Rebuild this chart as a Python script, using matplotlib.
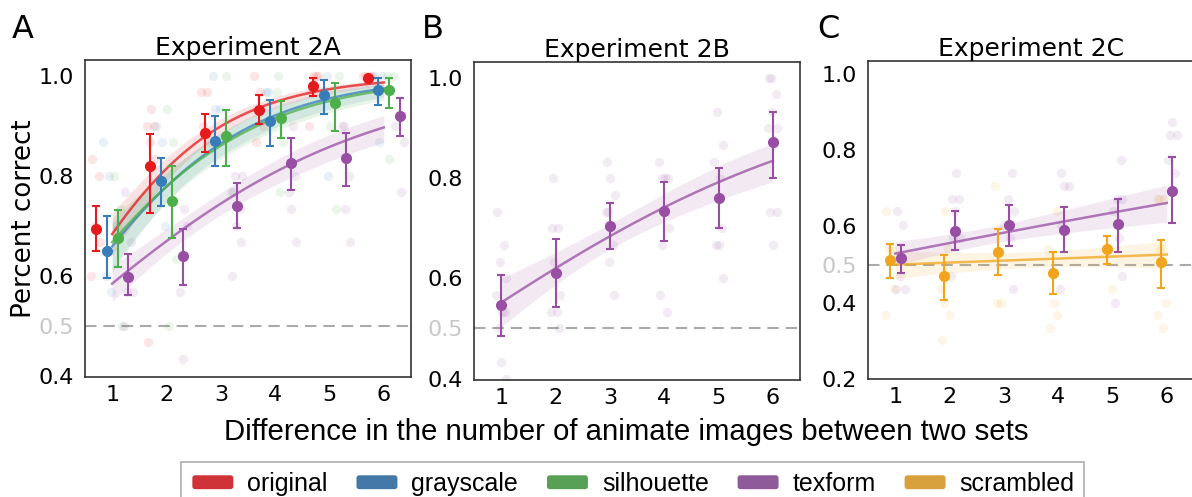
import numpy as np
import matplotlib
matplotlib.use("Agg")
import matplotlib.pyplot as plt
from matplotlib.patches import FancyBboxPatch, Patch
from matplotlib.legend_handler import HandlerPatch

# ---- data -------------------------------------------------------------
diffs = np.array([1, 2, 3, 4, 5, 6])

# Experiment 2A: condition means and 95% CI bounds
a_original = [0.693, 0.819, 0.885, 0.932, 0.980, 0.995]
a_original_lo = [0.649, 0.726, 0.848, 0.903, 0.959, 0.989]
a_original_hi = [0.739, 0.883, 0.923, 0.962, 0.995, 1.000]
a_gray = [0.649, 0.789, 0.870, 0.909, 0.962, 0.972]
a_gray_lo = [0.596, 0.739, 0.820, 0.860, 0.923, 0.942]
a_gray_hi = [0.719, 0.836, 0.919, 0.952, 0.992, 0.995]
a_silh = [0.675, 0.749, 0.879, 0.916, 0.946, 0.972]
a_silh_lo = [0.618, 0.675, 0.820, 0.876, 0.889, 0.936]
a_silh_hi = [0.732, 0.820, 0.932, 0.949, 0.985, 0.995]
a_tex = [0.598, 0.639, 0.739, 0.825, 0.836, 0.919]
a_tex_lo = [0.562, 0.581, 0.695, 0.772, 0.779, 0.879]
a_tex_hi = [0.644, 0.693, 0.785, 0.876, 0.886, 0.956]

# Experiment 2B (texform only)
b_tex = [0.546, 0.611, 0.705, 0.735, 0.760, 0.872]
b_tex_lo = [0.485, 0.543, 0.659, 0.674, 0.701, 0.801]
b_tex_hi = [0.607, 0.679, 0.750, 0.793, 0.820, 0.932]

# Experiment 2C (texform vs scrambled)
c_tex = [0.517, 0.587, 0.603, 0.590, 0.607, 0.693]
c_tex_lo = [0.479, 0.537, 0.549, 0.534, 0.534, 0.610]
c_tex_hi = [0.552, 0.641, 0.657, 0.651, 0.672, 0.782]
c_scr = [0.513, 0.469, 0.533, 0.479, 0.541, 0.507]
c_scr_lo = [0.466, 0.408, 0.472, 0.422, 0.502, 0.438]
c_scr_hi = [0.554, 0.524, 0.594, 0.534, 0.576, 0.565]

# individual participants (difference, proportion correct)
a_original_pts_x = [1, 1, 1, 1, 1, 2, 2, 2, 2, 2, 2, 3, 3, 3, 3, 4, 4, 4, 4, 5, 5, 5, 5, 5, 6, 6, 6, 6]
a_original_pts_y = [0.833, 0.8, 0.7, 0.667, 0.6, 0.933, 0.9, 0.9, 0.867, 0.833, 0.467,
                    0.967, 0.967, 0.9, 0.867, 1.0, 0.967, 0.9, 0.867, 1.0, 1.0, 0.967, 0.9, 1.0,
                    1.0, 1.0, 1.0, 1.0]
a_gray_pts_x = [1, 1, 1, 1, 2, 2, 2, 3, 3, 3, 4, 4, 5, 5, 5, 6, 6, 6]
a_gray_pts_y = [0.867, 0.8, 0.6, 0.567, 0.9, 0.867, 0.7, 1.0, 0.933, 0.933, 0.967, 0.967,
                1.0, 0.967, 0.8, 1.0, 0.867, 1.0]
a_silh_pts_x = [1, 1, 1, 1, 2, 2, 2, 2, 3, 3, 4, 4, 4, 4, 5, 5, 5, 6, 6, 6]
a_silh_pts_y = [0.8, 0.733, 0.7, 0.5, 0.933, 0.867, 0.633, 0.5, 1.0, 0.767, 1.0, 0.967, 0.867,
                0.767, 1.0, 0.9, 0.733, 1.0, 1.0, 0.833]
a_tex_pts_x = [1, 1, 1, 1, 1, 2, 2, 2, 2, 3, 3, 3, 3, 3, 3, 3, 4, 4, 4, 4, 4, 5, 5, 5, 5, 5, 6, 6, 6]
a_tex_pts_y = [0.767, 0.667, 0.567, 0.567, 0.5, 0.733, 0.7, 0.567, 0.433,
               0.8, 0.8, 0.767, 0.733, 0.7, 0.667, 0.6, 0.9, 0.8, 0.767, 0.733, 0.667,
               0.9, 0.9, 0.8, 0.733, 0.667, 0.9, 0.767, 0.867]

b_tex_pts_x = [1] * 10 + [2] * 8 + [3] * 8 + [4] * 9 + [5] * 8 + [6] * 10
b_tex_pts_y = [0.733, 0.667, 0.633, 0.6, 0.567, 0.533, 0.533, 0.5, 0.433, 0.4,
               0.8, 0.7, 0.7, 0.633, 0.567, 0.533, 0.533, 0.5,
               0.833, 0.8, 0.767, 0.733, 0.733, 0.667, 0.633, 0.567,
               0.833, 0.8, 0.8, 0.8, 0.733, 0.7, 0.667, 0.567, 0.533,
               0.933, 0.867, 0.833, 0.8, 0.7, 0.667, 0.667, 0.6,
               1.0, 1.0, 0.967, 0.933, 0.9, 0.9, 0.867, 0.733, 0.733, 0.667]

c_tex_pts_x = [1] * 5 + [2] * 7 + [3] * 6 + [4] * 5 + [5] * 7 + [6] * 5
c_tex_pts_y = [0.64, 0.604, 0.47, 0.436, 0.436,
               0.74, 0.672, 0.672, 0.64, 0.57, 0.57, 0.47,
               0.74, 0.672, 0.64, 0.604, 0.57, 0.436,
               0.74, 0.707, 0.707, 0.604, 0.436,
               0.773, 0.672, 0.672, 0.64, 0.57, 0.47, 0.4,
               0.873, 0.84, 0.84, 0.773, 0.74]
c_scr_pts_x = [1] * 5 + [2] * 6 + [3] * 3 + [4] * 5 + [5] * 2 + [6] * 7
c_scr_pts_y = [0.64, 0.54, 0.54, 0.436, 0.368,
               0.64, 0.54, 0.436, 0.4, 0.368, 0.303,
               0.707, 0.4, 0.4,
               0.64, 0.54, 0.4, 0.368, 0.334,
               0.54, 0.436,
               0.672, 0.672, 0.672, 0.54, 0.4, 0.368, 0.334]

legend_labels = ["original", "grayscale", "silhouette", "texform", "scrambled"]

# ---- style ------------------------------------------------------------
col = {"original": "#e41a1c", "grayscale": "#377eb8", "silhouette": "#4daf4a",
       "texform": "#984ea3", "scrambled": "#f2a51c"}
legend_col = {"original": "#d03337", "grayscale": "#4479a7", "silhouette": "#58a056",
              "texform": "#8f5a9a", "scrambled": "#d9a03e"}

plt.rcParams["font.family"] = "DejaVu Sans"


def expit(z):
    return 1.0 / (1.0 + np.exp(-z))


def logit_fit(m, lo, hi, xs):
    # weighted logistic-link fit on the condition means, CI widths as weights
    p = np.clip(np.asarray(m), 0.01, 0.99)
    se = (np.asarray(hi) - np.asarray(lo)) / (2 * 1.96) / (p * (1 - p))
    w = 1.0 / se ** 2
    X = np.column_stack([np.ones_like(diffs, dtype=float), diffs])
    A = X.T @ (w[:, None] * X)
    beta = np.linalg.solve(A, X.T @ (w * np.log(p / (1 - p))))
    cov = np.linalg.inv(A)
    Xs = np.column_stack([np.ones_like(xs), xs])
    eta = Xs @ beta
    se_eta = np.sqrt(np.sum((Xs @ cov) * Xs, axis=1))
    return expit(eta), expit(eta - 1.96 * se_eta), expit(eta + 1.96 * se_eta)


jitter = np.array([-0.07, 0.05, -0.02, 0.08, -0.09, 0.02, 0.07, -0.05, 0.0, 0.09, -0.04])


def draw_condition(ax, name, m, lo, hi, px, py, dodge):
    c = col[name]
    px = np.asarray(px, dtype=float)
    jx = px + dodge + jitter[np.arange(len(px)) % len(jitter)]
    ax.scatter(jx, py, s=45, color=c, alpha=0.11, lw=0, zorder=1)
    xs = np.linspace(1, 6, 100)
    fit, flo, fhi = logit_fit(m, lo, hi, xs)
    ax.fill_between(xs, flo, fhi, color=c, alpha=0.12, lw=0, zorder=2)
    ax.plot(xs, fit, color=c, lw=1.8, alpha=0.75, zorder=3)
    m = np.asarray(m)
    yerr = [m - np.asarray(lo), np.asarray(hi) - m]
    ax.errorbar(diffs + dodge, m, yerr=yerr, fmt="o", color=c, ms=7, elinewidth=1.5,
                capsize=3, capthick=1.5, zorder=4)


def style_axes(ax, title, yticks, ylim):
    ax.set_xlim(0.5, 6.5)
    ax.set_ylim(*ylim)
    ax.axhline(0.5, color="#aaaaaa", lw=1.5, ls=(0, (5.5, 3.3)), zorder=0)
    ax.set_xticks(diffs)
    ax.set_yticks(yticks)
    ax.set_yticklabels([f"{t:.1f}" for t in yticks])
    for t, lab in zip(yticks, ax.get_yticklabels()):
        if abs(t - 0.5) < 1e-9:
            lab.set_color("#c8c8c8")
    ax.tick_params(length=0, labelsize=16, pad=8)
    ax.tick_params(axis="x", pad=6)
    for s in ax.spines.values():
        s.set_color("#333333")
        s.set_linewidth(1.2)
    ax.set_title(title, fontsize=18, pad=3)


fig = plt.figure(figsize=(11.92, 4.97), dpi=100)
axA = fig.add_axes([0.0713, 0.2414, 0.2735, 0.638])
axB = fig.add_axes([0.3977, 0.2354, 0.2735, 0.640])
axC = fig.add_axes([0.7282, 0.2374, 0.2735, 0.640])

draw_condition(axA, "original", a_original, a_original_lo, a_original_hi,
               a_original_pts_x, a_original_pts_y, -0.3)
draw_condition(axA, "grayscale", a_gray, a_gray_lo, a_gray_hi, a_gray_pts_x, a_gray_pts_y, -0.1)
draw_condition(axA, "silhouette", a_silh, a_silh_lo, a_silh_hi, a_silh_pts_x, a_silh_pts_y, 0.1)
draw_condition(axA, "texform", a_tex, a_tex_lo, a_tex_hi, a_tex_pts_x, a_tex_pts_y, 0.3)
style_axes(axA, "Experiment 2A", [0.4, 0.5, 0.6, 0.8, 1.0], (0.397, 1.032))
axA.set_ylabel("Percent correct", fontsize=18.8, labelpad=1)

draw_condition(axB, "texform", b_tex, b_tex_lo, b_tex_hi, b_tex_pts_x, b_tex_pts_y, 0.0)
style_axes(axB, "Experiment 2B", [0.4, 0.5, 0.6, 0.8, 1.0], (0.397, 1.032))

draw_condition(axC, "scrambled", c_scr, c_scr_lo, c_scr_hi, c_scr_pts_x, c_scr_pts_y, -0.1)
draw_condition(axC, "texform", c_tex, c_tex_lo, c_tex_hi, c_tex_pts_x, c_tex_pts_y, 0.1)
style_axes(axC, "Experiment 2C", [0.2, 0.4, 0.5, 0.6, 0.8, 1.0], (0.2, 1.034))

for letter, xpos in zip("ABC", [0.010, 0.354, 0.686]):
    fig.text(xpos, 0.924, letter, fontsize=23)

fig.text(0.525, 0.131, "Difference in the number of animate images between two sets",
         ha="center", va="center", fontsize=21.2, family="Liberation Sans")


class RoundPatch(HandlerPatch):
    def create_artists(self, legend, orig_handle, xdescent, ydescent, width, height,
                       fontsize, trans):
        p = FancyBboxPatch((-xdescent + 1, -ydescent + 1), width - 2, height - 2,
                           boxstyle="round,pad=0,rounding_size=2",
                           facecolor=orig_handle.get_facecolor(), edgecolor="none",
                           transform=trans)
        return [p]


handles = [Patch(facecolor=legend_col[n]) for n in legend_labels]
leg = fig.legend(handles, legend_labels, loc="upper left", bbox_to_anchor=(0.1518, 0.0704),
                 ncol=5, frameon=True, fancybox=False, edgecolor="#999999",
                 prop={"family": "Liberation Sans", "size": 18}, handlelength=1.75,
                 handleheight=0.65, handletextpad=0.5, columnspacing=1.1, borderpad=0.4,
                 borderaxespad=0, handler_map={Patch: RoundPatch()})
leg.get_frame().set_linewidth(1.2)

fig.savefig("out.png", dpi=100)
